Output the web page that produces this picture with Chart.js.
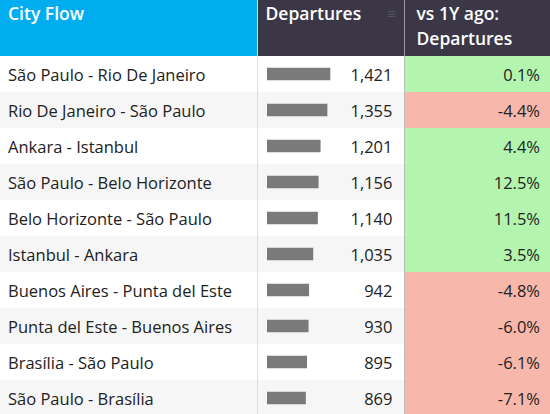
<!DOCTYPE html>
<html><head><meta charset="utf-8">
<script src="https://cdn.jsdelivr.net/npm/chart.js@4"></script>
<style>
html,body{margin:0;padding:0;width:550px;height:414px;overflow:hidden;background:#fff;font-family:"Open Sans",sans-serif;}
#wrap{position:relative;width:550px;height:414px;}
table{border-collapse:collapse;position:absolute;left:0;top:0;width:550px;table-layout:fixed;}
th{box-sizing:border-box;height:56px;color:#fff;font-weight:600;font-size:17.5px;text-align:left;vertical-align:top;padding:1px 8px 0 8px;line-height:25px;}
th.c1{background:#00aeef;width:257px;}
th.c2{background:#3b3747;width:147px;border-left:1px solid #ddd;}
th.c3{background:#3b3747;border-left:1px solid #999;padding-left:12px;}
td{box-sizing:border-box;height:36px;padding:0 8px;font-size:16.5px;color:#222;}
td.n{text-align:right;border-left:1px solid #ddd;padding-right:11px;}
td.p{text-align:right;border-left:1px solid #bbb;padding-right:10px;}
tr.alt td{background:#f6f6f6;}
#cv{position:absolute;left:267px;top:56px;width:80px;height:360px;}
</style></head><body>
<div id="wrap">
<table id="t"><thead><tr><th class="c1">City Flow</th><th class="c2">Departures <span style="color:#555;font-size:14px;float:right">&#8801;</span></th><th class="c3">vs 1Y ago:<br>Departures</th></tr></thead><tbody id="tb"></tbody></table>
<div id="cv"><canvas id="c"></canvas></div>
</div>
<script>
const flows=["São Paulo - Rio De Janeiro","Rio De Janeiro - São Paulo","Ankara - Istanbul","São Paulo - Belo Horizonte","Belo Horizonte - São Paulo","Istanbul - Ankara","Buenos Aires - Punta del Este","Punta del Este - Buenos Aires","Brasília - São Paulo","São Paulo - Brasília"];
const departures=[1421,1355,1201,1156,1140,1035,942,930,895,869];
const change=[0.1,-4.4,4.4,12.5,11.5,3.5,-4.8,-6.0,-6.1,-7.1];
const tb=document.getElementById('tb');
flows.forEach((f,i)=>{
  const tr=document.createElement('tr');
  if(i%2===1)tr.className='alt';
  const bg=change[i]>=0?'#b3f5ae':'#f7b8ab';
  tr.innerHTML='<td>'+f+'</td><td class="n">'+departures[i].toLocaleString('en-US')+'</td><td class="p" style="background:'+bg+'">'+change[i].toFixed(1)+'%</td>';
  tb.appendChild(tr);
});
new Chart(document.getElementById('c'),{type:'bar',
 data:{labels:flows,datasets:[{data:departures,backgroundColor:'#7a7a7a',barThickness:12}]},
 options:{indexAxis:'y',responsive:true,maintainAspectRatio:false,animation:false,
  layout:{padding:0},
  plugins:{legend:{display:false},tooltip:{enabled:false}},
  scales:{x:{display:false,min:0,max:1805},y:{display:false}}}});
</script></body></html>
